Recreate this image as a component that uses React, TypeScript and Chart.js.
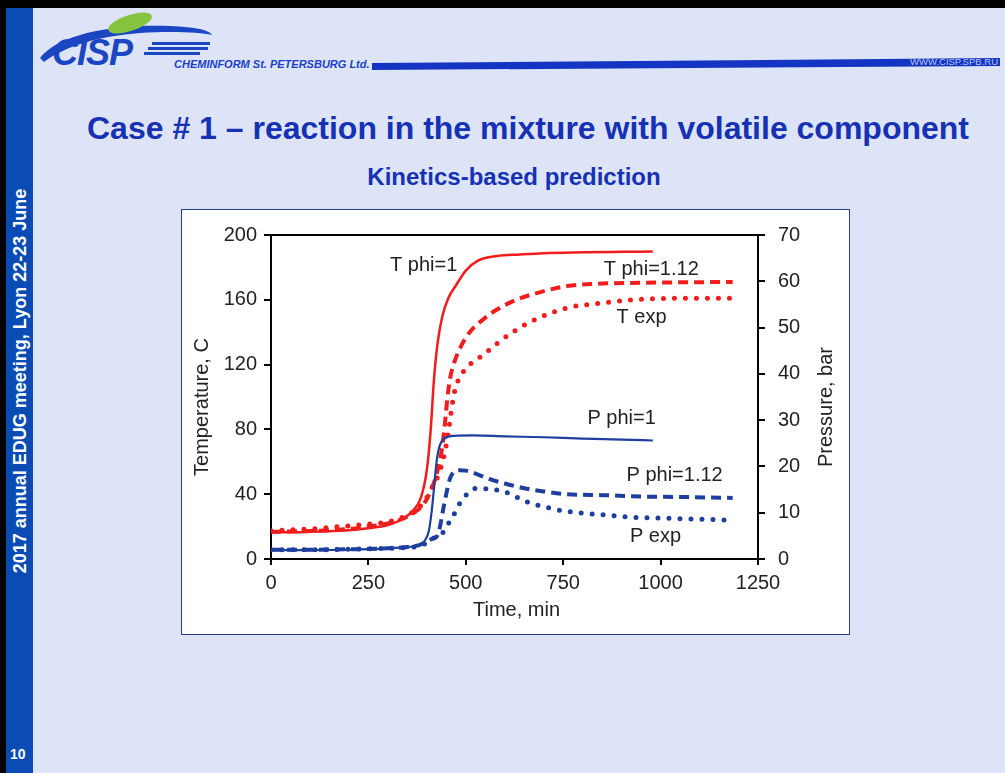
import React, { useEffect, useRef } from "react";
import { Chart, registerables } from "chart.js";

Chart.register(...registerables);

// ---------- data ----------
const X_MIN = 0;
const X_MAX = 1250;
const X_STEP = 250;
const T_MAX = 200;
const T_STEP = 40;
const P_MAX = 70;
const P_STEP = 10;

// Temperature, phi = 1 (solid red)
const T_PHI1_TIME = [0, 50, 100, 150, 200, 250, 300, 340, 365, 385, 400, 410, 418, 428, 440, 455, 475, 500, 530, 580, 640, 700, 800, 900, 980];
const T_PHI1 = [16.5, 16.5, 16.8, 17.2, 17.8, 19, 21, 25, 30, 38, 55, 80, 110, 134, 150, 161, 169, 178, 184, 187, 188, 188.8, 189.3, 189.6, 189.8];

// Temperature, phi = 1.12 (dashed red)
const T_PHI112_TIME = [0, 50, 100, 150, 200, 250, 300, 340, 370, 395, 415, 430, 440, 447, 453, 460, 470, 485, 510, 540, 580, 620, 680, 760, 850, 950, 1050, 1185];
const T_PHI112 = [16.8, 17, 17.3, 17.8, 18.5, 20, 22, 25, 29, 35, 45, 57, 70, 85, 100, 112, 121, 130, 140, 147, 154, 159, 164, 168.5, 170, 170.5, 170.8, 171];

// Temperature, experiment (dotted red)
const T_EXP_TIME = [0, 50, 100, 150, 200, 250, 300, 340, 370, 395, 415, 430, 440, 448, 455, 462, 470, 480, 495, 515, 545, 575, 620, 680, 760, 850, 930, 1050, 1180];
const T_EXP = [17.5, 18, 18.5, 19.5, 20.5, 21.5, 23, 26, 30, 36, 45, 52, 60, 68, 78, 90, 102, 110, 116, 121, 126, 132, 140, 148, 155, 158, 160, 161, 161];

// Pressure, phi = 1 (solid blue)
const P_PHI1_TIME = [0, 100, 200, 300, 350, 380, 395, 405, 412, 418, 425, 433, 445, 470, 520, 600, 700, 800, 900, 980];
const P_PHI1 = [1.9, 1.9, 2.0, 2.3, 2.6, 3.0, 4.0, 6.0, 10, 15, 21, 24.5, 26, 26.6, 26.7, 26.5, 26.3, 26.0, 25.8, 25.6];

// Pressure, phi = 1.12 (dashed blue)
const P_PHI112_TIME = [0, 100, 200, 300, 350, 380, 400, 415, 425, 433, 441, 451, 460, 470, 485, 500, 530, 560, 600, 650, 700, 760, 850, 950, 1050, 1185];
const P_PHI112 = [2, 2, 2.1, 2.3, 2.6, 3, 3.8, 4.4, 4.8, 6.7, 10.3, 14.5, 17.5, 18.8, 19.2, 19.1, 18.3, 17.3, 16.3, 15.3, 14.6, 14, 13.8, 13.5, 13.4, 13.2];

// Pressure, experiment (dotted blue)
const P_EXP_TIME = [0, 100, 200, 300, 350, 380, 400, 415, 441, 451, 467, 482, 502, 528, 562, 600, 630, 656, 715, 758, 844, 930, 1015, 1185];
const P_EXP = [2, 2, 2.1, 2.3, 2.5, 2.8, 3.5, 4.4, 5.7, 7.1, 9.2, 11.7, 13.9, 15.3, 15.1, 14.5, 13.4, 12.4, 11, 10.3, 9.6, 9.0, 8.8, 8.4];

// Curve labels (time, value on axis)
const LABEL_TEXT = ["T phi=1", "T phi=1.12", "T exp", "P phi=1", "P phi=1.12", "P exp"];
const LABEL_TIME = [392, 976, 951, 900, 1036, 987];
const LABEL_VALUE = [181.4, 179, 149, 30.4, 18.0, 4.8];
const LABEL_AXIS = ["y", "y", "y", "y1", "y1", "y1"];

const TITLE = "Case # 1 \u2013 reaction in the mixture with volatile component";
const SUBTITLE = "Kinetics-based prediction";
const SIDEBAR = "2017 annual EDUG meeting, Lyon 22-23 June";
const PAGE_NO = "10";
const X_TITLE = "Time, min";
const Y_TITLE = "Temperature, C";
const Y1_TITLE = "Pressure, bar";

// ---------- styles ----------
const FONT = '"Liberation Sans", Arial, Helvetica, sans-serif';
const RED = "#f21c1c";
const BLUE = "#1f3f9e";
const TEXT = "#222222";

const zip = (xs: number[], ys: number[]) => xs.map((x, i) => ({ x, y: ys[i] }));

const overlayPlugin = {
  id: "overlay",
  afterDraw(chart: any) {
    const { ctx, chartArea, scales } = chart;
    ctx.save();
    // top frame line
    ctx.strokeStyle = "#000";
    ctx.lineWidth = 2;
    ctx.beginPath();
    ctx.moveTo(chartArea.left - 1, chartArea.top);
    ctx.lineTo(chartArea.right + 1, chartArea.top);
    ctx.stroke();

    ctx.fillStyle = TEXT;
    ctx.font = `20px ${FONT}`;
    ctx.textAlign = "center";
    ctx.textBaseline = "middle";
    // curve labels
    LABEL_TEXT.forEach((t, i) => {
      const x = scales.x.getPixelForValue(LABEL_TIME[i]);
      const y = scales[LABEL_AXIS[i]].getPixelForValue(LABEL_VALUE[i]);
      ctx.fillText(t, x, y);
    });
    // axis titles
    const midY = (chartArea.top + chartArea.bottom) / 2 + 10;
    ctx.fillText(X_TITLE, (chartArea.left + chartArea.right) / 2 + 2, chartArea.bottom + 51);
    ctx.save();
    ctx.translate(chartArea.left - 69, midY);
    ctx.rotate(-Math.PI / 2);
    ctx.fillText(Y_TITLE, 0, 0);
    ctx.restore();
    ctx.save();
    ctx.translate(chartArea.right + 68, midY);
    ctx.rotate(-Math.PI / 2);
    ctx.fillText(Y1_TITLE, 0, 0);
    ctx.restore();
    ctx.restore();
  },
};

function ChartBox() {
  const ref = useRef<HTMLCanvasElement | null>(null);
  useEffect(() => {
    if (!ref.current) return;
    const tickFont = { family: FONT, size: 20 };
    const plain = (v: any) => String(v);
    const axisCommon = {
      grid: { drawOnChartArea: false, drawTicks: true, tickLength: 7, color: "#000", lineWidth: 2 },
      border: { display: true, color: "#000", width: 2 },
    };
    const chart = new Chart(ref.current, {
      type: "line",
      data: {
        datasets: [
          { label: "P exp", data: zip(P_EXP_TIME, P_EXP), yAxisID: "y1", borderColor: BLUE, borderWidth: 5, borderDash: [0, 11], borderCapStyle: "round" },
          { label: "P phi=1.12", data: zip(P_PHI112_TIME, P_PHI112), yAxisID: "y1", borderColor: BLUE, borderWidth: 4, borderDash: [10, 6] },
          { label: "P phi=1", data: zip(P_PHI1_TIME, P_PHI1), yAxisID: "y1", borderColor: BLUE, borderWidth: 2.2 },
          { label: "T exp", data: zip(T_EXP_TIME, T_EXP), yAxisID: "y", borderColor: RED, borderWidth: 5, borderDash: [0, 11], borderCapStyle: "round" },
          { label: "T phi=1.12", data: zip(T_PHI112_TIME, T_PHI112), yAxisID: "y", borderColor: RED, borderWidth: 4, borderDash: [10, 6] },
          { label: "T phi=1", data: zip(T_PHI1_TIME, T_PHI1), yAxisID: "y", borderColor: RED, borderWidth: 2.5 },
        ] as any,
      },
      options: {
        animation: false,
        responsive: false,
        maintainAspectRatio: false,
        layout: { padding: { top: 15, left: 0, right: 0, bottom: 0 } },
        elements: {
          point: { radius: 0 },
          line: { cubicInterpolationMode: "monotone", fill: false },
        },
        plugins: { legend: { display: false }, tooltip: { enabled: false } },
        scales: {
          x: {
            type: "linear",
            min: X_MIN,
            max: X_MAX,
            ...axisCommon,
            grid: { ...axisCommon.grid, tickLength: 6 },
            ticks: { stepSize: X_STEP, font: tickFont, color: TEXT, padding: 6, maxRotation: 0, callback: plain },
            afterFit: (s: any) => { s.height = 75; },
          },
          y: {
            position: "left",
            min: 0,
            max: T_MAX,
            ...axisCommon,
            ticks: { stepSize: T_STEP, font: tickFont, color: TEXT, padding: 7, callback: plain },
            afterFit: (s: any) => { s.width = 89; },
          },
          y1: {
            position: "right",
            min: 0,
            max: P_MAX,
            ...axisCommon,
            ticks: { stepSize: P_STEP, font: tickFont, color: TEXT, padding: 13, callback: plain },
            afterFit: (s: any) => { s.width = 91; },
          },
        },
      } as any,
      plugins: [overlayPlugin],
    });
    return () => chart.destroy();
  }, []);
  return <canvas ref={ref} width={667} height={424} style={{ display: "block", width: 667, height: 424 }} />;
}

export default function App() {
  return (
    <div style={{ position: "fixed", left: 0, top: 0, width: 1005, height: 773, overflow: "hidden", background: "#dde4f7", fontFamily: FONT }}>
      {/* frame */}
      <div style={{ position: "absolute", left: 0, top: 0, width: 1005, height: 8, background: "#000" }} />
      <div style={{ position: "absolute", left: 0, top: 0, width: 6, height: 773, background: "#000" }} />
      <div style={{ position: "absolute", left: 6, top: 8, width: 27, height: 765, background: "#0a4cb4" }} />
      {/* sidebar text */}
      <div style={{ position: "absolute", left: 20, top: 381, width: 0, height: 0 }}>
        <div style={{ position: "absolute", left: 0, top: 0, transform: "translate(-50%,-50%) rotate(-90deg)", whiteSpace: "nowrap", color: "#fff", fontWeight: 700, fontSize: 18, lineHeight: "20px" }}>{SIDEBAR}</div>
      </div>
      <div style={{ position: "absolute", left: 10, top: 746, color: "#fff", fontWeight: 700, fontSize: 14 }}>{PAGE_NO}</div>
      {/* logo */}
      <svg width={1005} height={80} style={{ position: "absolute", left: 0, top: 0 }}>
        <path d="M40 58 C 60 32, 120 24, 170 26 C 195 27, 210 30, 212 35 C 200 32, 170 31, 140 33 C 100 36, 65 46, 44 62 Z" fill="#1a46c4" />
        <ellipse cx={130} cy={23} rx={23} ry={8} transform="rotate(-18 130 23)" fill="#86c440" />
        <text x={52} y={65} fontFamily={FONT} fontStyle="italic" fontWeight={900} fontSize={36} fill="#1a46c4" letterSpacing={-1}>CISP</text>
        <rect x={152} y={42} width={58} height={3} fill="#1a46c4" />
        <rect x={148} y={47} width={60} height={3} fill="#1a46c4" />
        <rect x={144} y={52} width={56} height={3} fill="#1a46c4" />
        <text x={174} y={68} fontFamily={FONT} fontStyle="italic" fontWeight={700} fontSize={11} fill="#1a3fc8">CHEMINFORM St. PETERSBURG Ltd.</text>
        <polygon points="372,63 1000,58 1000,66 372,70" fill="#1434c4" />
        <text x={998} y={65} textAnchor="end" fontFamily={FONT} fontSize={9.5} fill="#b9c4ea">WWW.CISP.SPB.RU</text>
      </svg>
      {/* titles */}
      <div style={{ position: "absolute", left: 0, width: 1056, top: 109, textAlign: "center", color: "#1631b4", fontWeight: 700, fontSize: 32, lineHeight: "38px", whiteSpace: "nowrap" }}>{TITLE}</div>
      <div style={{ position: "absolute", left: 0, width: 1028, top: 162, textAlign: "center", color: "#1631b4", fontWeight: 700, fontSize: 24, lineHeight: "30px", whiteSpace: "nowrap" }}>{SUBTITLE}</div>
      {/* chart box */}
      <div style={{ position: "absolute", left: 181, top: 209, width: 669, height: 426, boxSizing: "border-box", border: "1px solid #26418f", background: "#fff" }}>
        <ChartBox />
      </div>
    </div>
  );
}
